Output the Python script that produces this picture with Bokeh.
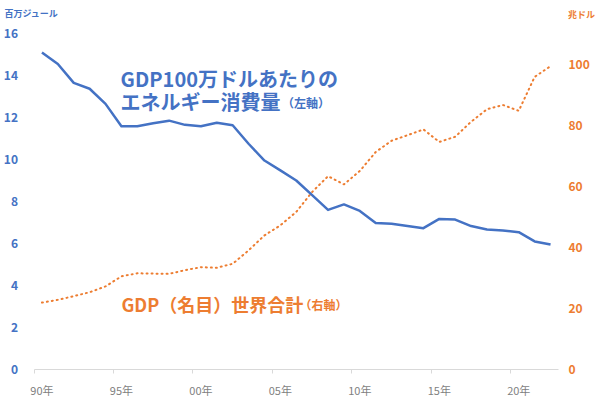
from bokeh.plotting import figure
from bokeh.models import Range1d, LinearAxis, FixedTicker, Label
from bokeh.embed import file_html
from bokeh.resources import INLINE

years = list(range(1990, 2023))
energy = [15.1, 14.55, 13.65, 13.37, 12.65, 11.58, 11.58, 11.73, 11.85, 11.65,
          11.58, 11.75, 11.63, 10.75, 9.95, 9.48, 9.0, 8.3, 7.6, 7.86,
          7.55, 6.98, 6.94, 6.83, 6.73, 7.17, 7.14, 6.83, 6.67, 6.62,
          6.54, 6.1, 5.95]
gdp = [21.9, 22.8, 24.0, 25.3, 27.2, 30.5, 31.5, 31.4, 31.3, 32.5,
       33.5, 33.3, 34.6, 39.0, 43.9, 47.2, 51.6, 58.1, 63.3, 60.6,
       65.0, 71.2, 74.9, 76.7, 78.6, 74.5, 76.2, 81.1, 85.2, 86.6,
       84.7, 95.8, 99.3]
label_years = [1990, 1995, 2000, 2005, 2010, 2015, 2020]
label_texts = ["90年", "95年", "00年", "05年", "10年", "15年", "20年"]
left_ticks = [0, 2, 4, 6, 8, 10, 12, 14, 16]
right_ticks = [0, 20, 40, 60, 80, 100]

BLUE = "#4472C4"
ORANGE = "#ED7D31"
GRAY = "#7f7f7f"
FONT = "Noto Sans CJK JP"

# axis extents (category bounds / value bounds)
X0, X1 = 1989.5, 2022.5
L0, L1 = 0, 16
R0, R1 = 0, 110

# plot area of the axes inside the 600x397 canvas (pixels)
FL, FR, FT, FB = 33.5, 558.0, 33.0, 369.0
W, H = 600, 397
xs = (FR - FL) / (X1 - X0)
ls = (FB - FT) / (L1 - L0)
rs = (FB - FT) / (R1 - R0)

p = figure(width=W, height=H, output_backend="svg", toolbar_location=None,
           x_range=Range1d(X0 - FL / xs, X1 + (W - FR) / xs),
           y_range=Range1d(L0 - (H - FB) / ls, L1 + FT / ls),
           min_border_left=0, min_border_right=0, min_border_top=0,
           min_border_bottom=0, title=None)
p.extra_y_ranges = {"right": Range1d(R0 - (H - FB) / rs, R1 + FT / rs)}
p.outline_line_color = None
p.xgrid.visible = False
p.ygrid.visible = False
p.background_fill_color = "white"
p.border_fill_color = "white"

# x axis
xa = p.xaxis[0]
xa.fixed_location = L0
xa.bounds = (X0, X1)
xa.ticker = FixedTicker(ticks=label_years,
                        minor_ticks=[y - 0.5 for y in label_years])
xa.major_label_overrides = {y: t for y, t in zip(label_years, label_texts)}
xa.axis_line_color = "#d9d9d9"
xa.major_tick_line_color = None
xa.major_tick_out = 0
xa.major_tick_in = 0
xa.minor_tick_line_color = "#d9d9d9"
xa.minor_tick_out = 4
xa.minor_tick_in = 0
xa.major_label_text_color = GRAY
xa.major_label_text_font = FONT
xa.major_label_text_font_size = "11px"
xa.major_label_standoff = 8

# left axis
ya = p.yaxis[0]
ya.fixed_location = X0
ya.bounds = (L0, L1)
ya.ticker = FixedTicker(ticks=left_ticks)
ya.axis_line_color = None
ya.major_tick_line_color = None
ya.minor_tick_line_color = None
ya.major_tick_out = 0
ya.major_tick_in = 0
ya.major_label_standoff = 16
ya.major_label_text_color = BLUE
ya.major_label_text_font = FONT
ya.major_label_text_font_style = "bold"
ya.major_label_text_font_size = "12px"

# right axis
ra = LinearAxis(y_range_name="right", ticker=FixedTicker(ticks=right_ticks),
                fixed_location=X1, bounds=(R0, R1))
ra.axis_line_color = None
ra.major_tick_line_color = None
ra.minor_tick_line_color = None
ra.major_tick_out = 0
ra.major_tick_in = 0
ra.major_label_standoff = 10
ra.major_label_text_color = ORANGE
ra.major_label_text_font = FONT
ra.major_label_text_font_style = "bold"
ra.major_label_text_font_size = "12px"
p.add_layout(ra, "right")

# lines
p.line(years, gdp, y_range_name="right", line_color=ORANGE, line_width=2.0,
       line_dash="1 4", line_cap="round")
p.line(years, energy, line_color=BLUE, line_width=2.5, line_join="round")

# axis titles
p.add_layout(Label(x=1987.64, y=16.95, text="百万ジュール", text_color=BLUE,
                   text_font=FONT, text_font_style="bold",
                   text_font_size="9px", text_baseline="middle"))
p.add_layout(Label(x=2023.1, y=16.9, text="兆ドル", text_color=ORANGE,
                   text_font=FONT, text_font_style="bold",
                   text_font_size="9px", text_baseline="middle"))

# annotations
p.add_layout(Label(x=1994.95, y=13.86, text="GDP100万ドルあたりの",
                   text_color=BLUE, text_font=FONT, text_font_style="bold",
                   text_font_size="20px", text_baseline="middle"))
p.add_layout(Label(x=1994.95, y=12.76, text="エネルギー消費量",
                   text_color=BLUE, text_font=FONT, text_font_style="bold",
                   text_font_size="20px", text_baseline="middle"))
p.add_layout(Label(x=2005.1, y=12.7, text="（左軸）",
                   text_color=BLUE, text_font=FONT, text_font_style="bold",
                   text_font_size="12px", text_baseline="middle"))
p.add_layout(Label(x=1995.0, y=3.14, text="GDP（名目）世界合計",
                   text_color=ORANGE, text_font=FONT, text_font_style="bold",
                   text_font_size="18px", text_baseline="middle"))
p.add_layout(Label(x=2006.2, y=3.1, text="（右軸）",
                   text_color=ORANGE, text_font=FONT, text_font_style="bold",
                   text_font_size="12px", text_baseline="middle"))

open("out.html", "w").write(file_html(p, INLINE))
